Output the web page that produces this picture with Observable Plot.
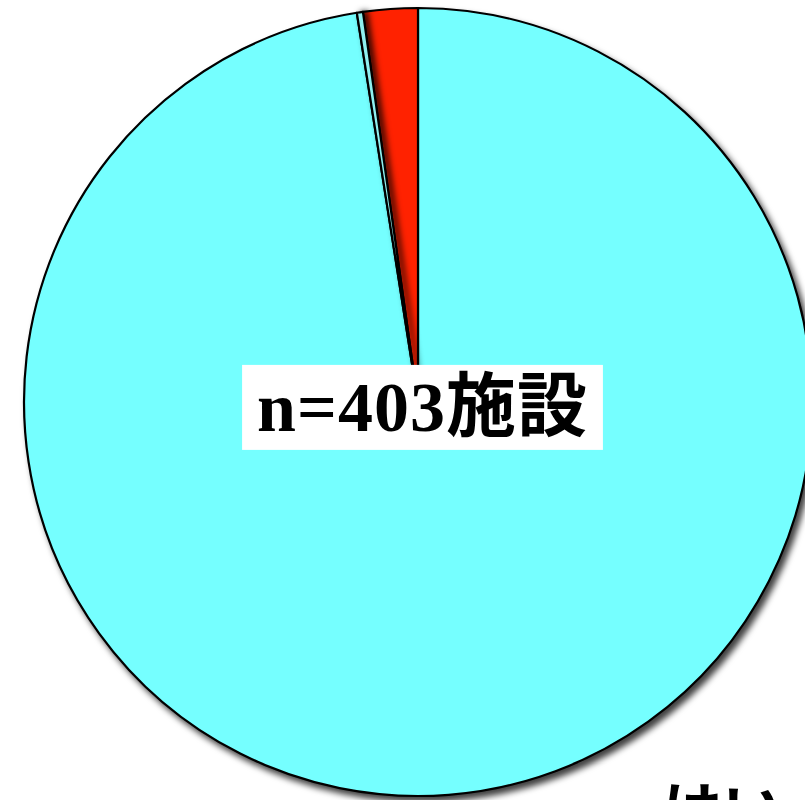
<!DOCTYPE html>
<html>
<head>
<meta charset="utf-8">
<script src="https://cdn.jsdelivr.net/npm/d3@7"></script>
<script src="https://cdn.jsdelivr.net/npm/@observablehq/plot@0.6"></script>
<style>
  html, body { margin: 0; padding: 0; background: #fff; overflow: hidden; }
  #chart { width: 805px; height: 800px; overflow: hidden; position: relative; }
</style>
</head>
<body>
<div id="chart"></div>
<script>
// Answers and facility counts (n = 403), clockwise from 12 o'clock
const answers = ["はい", "無回答", "いいえ"];
const counts = [393, 1, 9];
const sliceColors = ["#75ffff", "#8ff0f0", "#ff2200"];
const totalText = "n=403施設";
const outerLabel = "はい";

// Layout: pie centre and radius in pixels
const W = 805, H = 800;
const CX = 418, CY = 402, R = 394;

const rows = answers.map((answer, i) => ({answer, count: counts[i], color: sliceColors[i]}));
const arcs = d3.pie().sort(null).value(d => d.count)(rows);

// Paint order: big slice first, then the red one, then the thin one on top
const paintOrder = [0, 2, 1];

function pie(index, scales) {
  const cx = scales.x(0), cy = scales.y(0), r = scales.x(1) - scales.x(0);
  const arc = d3.arc().innerRadius(0).outerRadius(r);
  const g = d3.create("svg:g")
    .attr("transform", `translate(${cx},${cy})`)
    .style("filter", "drop-shadow(4px 5px 3px rgba(0,0,0,0.75))");
  for (const i of paintOrder) {
    const a = arcs[i];
    const p = g.append("path")
      .attr("d", arc(a))
      .attr("fill", a.data.color)
      .attr("stroke", "#000")
      .attr("stroke-width", 2.2)
      .attr("stroke-linejoin", "round");
    if (a.data.count < 5) p.style("filter", "drop-shadow(4px 0px 3px rgba(0,0,0,0.85))");
  }
  return g.node();
}

const font = "'Liberation Serif', 'Noto Sans CJK JP', serif";

const plot = Plot.plot({
  width: W,
  height: H,
  margin: 0,
  x: {domain: [-CX / R, (W - CX) / R], range: [0, W], axis: null},
  y: {domain: [(CY - H) / R, CY / R], range: [H, 0], axis: null},
  style: {background: "transparent", overflow: "visible"},
  marks: [
    pie,
    Plot.text([totalText], {
      x: () => 0, y: () => 0, text: d => d, dx: 4, dy: 6,
      fontSize: 70, fontWeight: "bold", fontFamily: font, fill: "#000"
    }),
    Plot.text([outerLabel], {
      x: () => (722 - CX) / R, y: () => (CY - 812) / R, text: d => d,
      fontSize: 60, fontWeight: "bold", fontFamily: font, fill: "#000"
    })
  ]
});

document.getElementById("chart").append(plot);

// White box behind the total label
const labelText = Array.from(plot.querySelectorAll("text")).find(t => t.textContent === totalText);
if (labelText) {
  labelText.style.letterSpacing = "1px";
  const sb = plot.getBoundingClientRect();
  const tb = labelText.getBoundingClientRect();
  const cxL = tb.left - sb.left + tb.width / 2;
  const cyL = tb.top - sb.top + tb.height / 2;
  const bw = tb.width + 30, bh = 85;
  const rect = document.createElementNS("http://www.w3.org/2000/svg", "rect");
  rect.setAttribute("x", cxL - bw / 2);
  rect.setAttribute("y", cyL - bh / 2);
  rect.setAttribute("width", bw);
  rect.setAttribute("height", bh);
  rect.setAttribute("fill", "#fff");
  const group = labelText.parentNode;
  group.parentNode.insertBefore(rect, group);
}
</script>
</body>
</html>
